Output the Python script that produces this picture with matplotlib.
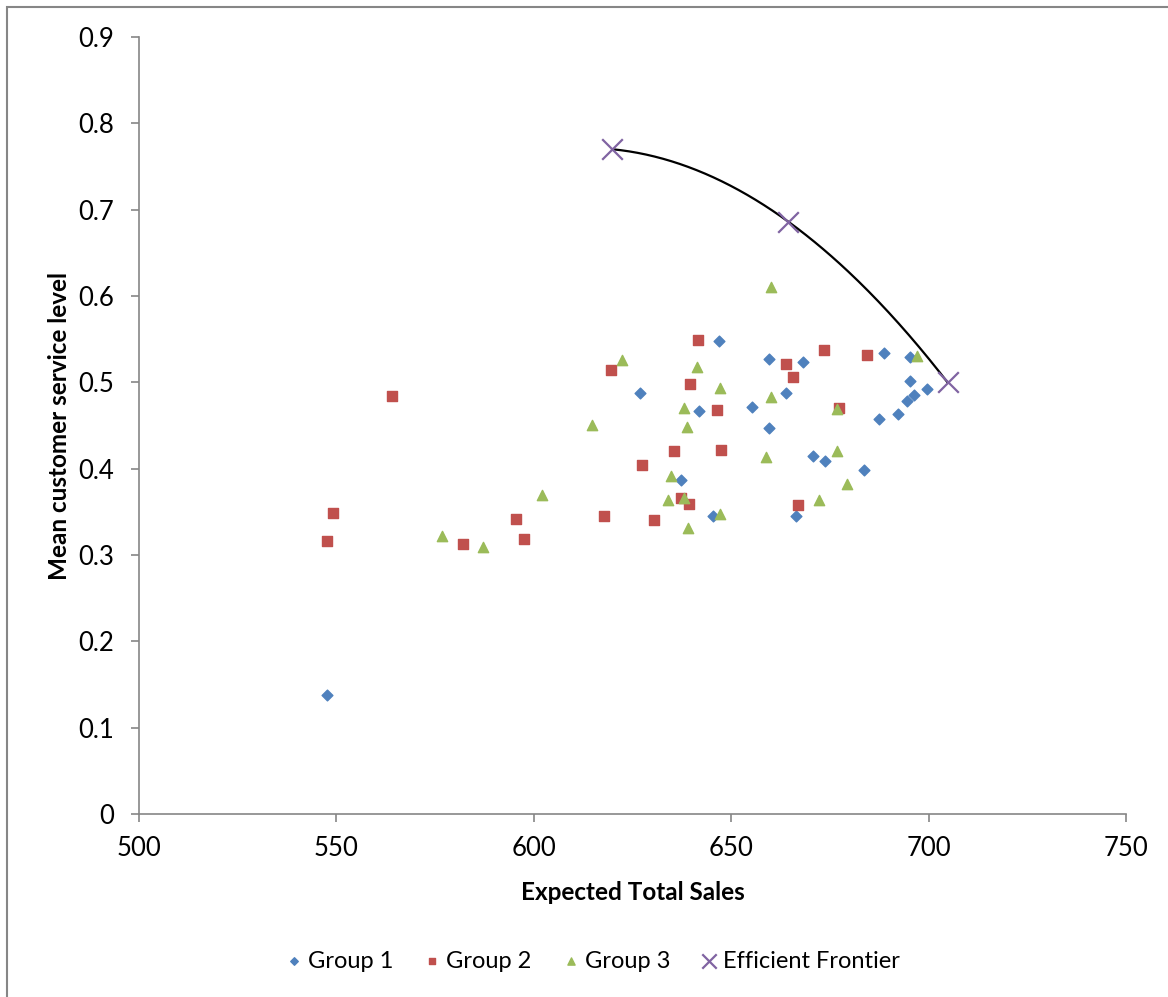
import numpy as np
import matplotlib.pyplot as plt
from matplotlib.patches import Rectangle

# data
g1_x = [647.0, 659.6, 627.0, 641.8, 655.3, 659.7, 637.2, 645.4, 668.3, 688.7, 695.4, 663.9,
        695.4, 699.7, 696.4, 694.6, 692.3, 687.4, 670.8, 673.7, 683.6, 666.5, 547.6]
g1_y = [0.548, 0.527, 0.488, 0.467, 0.471, 0.447, 0.387, 0.345, 0.524, 0.534, 0.529, 0.488,
        0.502, 0.492, 0.485, 0.478, 0.463, 0.458, 0.415, 0.409, 0.398, 0.345, 0.138]

g2_x = [641.7, 619.6, 639.6, 646.3, 635.6, 647.4, 627.5, 637.3, 639.3, 617.7, 630.5, 663.8,
        673.4, 665.7, 684.5, 677.4, 667.0, 564.1, 549.1, 547.7, 582.0, 595.5, 597.4]
g2_y = [0.549, 0.514, 0.498, 0.468, 0.420, 0.422, 0.404, 0.366, 0.359, 0.345, 0.341, 0.521,
        0.537, 0.506, 0.532, 0.470, 0.358, 0.484, 0.349, 0.316, 0.313, 0.342, 0.319]

g3_x = [622.3, 641.4, 647.2, 660.2, 638.0, 638.8, 658.7, 634.8, 634.1, 638.1, 647.2, 639.1,
        660.2, 697.1, 676.7, 676.7, 679.4, 672.2, 614.7, 602.0, 576.8, 587.2]
g3_y = [0.526, 0.518, 0.494, 0.483, 0.470, 0.448, 0.414, 0.391, 0.364, 0.366, 0.348, 0.331,
        0.611, 0.530, 0.469, 0.420, 0.382, 0.364, 0.451, 0.370, 0.322, 0.309]

ef_x = [619.9, 664.5, 704.8]
ef_y = [0.770, 0.686, 0.500]

plt.rcParams['font.family'] = ['Lato', 'DejaVu Sans']

fig = plt.figure(figsize=(11.68, 9.97), dpi=100)
ax = fig.add_axes([0.119, 0.1835, 0.845, 0.7794])

ax.scatter(g1_x, g1_y, marker='D', s=30, color='#4F81BD', label='Group 1', zorder=3)
ax.scatter(g2_x, g2_y, marker='s', s=45, color='#C0504D', label='Group 2', zorder=3)
ax.scatter(g3_x, g3_y, marker='^', s=55, color='#9BBB59', label='Group 3', zorder=3)

# smooth line through the frontier points
coef = np.polyfit(ef_x, ef_y, 2)
xs = np.linspace(ef_x[0], ef_x[-1], 200)
ax.plot(xs, np.polyval(coef, xs), color='black', lw=1.6, zorder=4)
ax.scatter(ef_x, ef_y, marker='x', s=220, color='#8064A2', linewidths=1.6,
           label='Efficient Frontier', zorder=5)

ax.set_xlim(500, 750)
ax.set_ylim(0, 0.9)
ax.set_xticks(np.arange(500, 751, 50))
ax.set_yticks(np.arange(0, 0.91, 0.1))
ax.set_yticklabels(['0'] + ['%.1f' % v for v in np.arange(0.1, 0.91, 0.1)])

for side in ['top', 'right']:
    ax.spines[side].set_visible(False)
for side in ['left', 'bottom']:
    ax.spines[side].set_color('#868686')
    ax.spines[side].set_linewidth(1.2)
ax.tick_params(axis='both', direction='out', length=6, width=1.2, color='#868686',
               labelsize=18.5)
ax.tick_params(axis='y', pad=12)
ax.tick_params(axis='x', pad=10)

ax.set_xlabel('Expected Total Sales', fontsize=17.5, fontweight='bold', labelpad=14)
ax.set_ylabel('Mean customer service level', fontsize=17.5, fontweight='bold', labelpad=5)

fig.legend(loc='center', bbox_to_anchor=(0.505, 0.036), ncol=4, frameon=False, fontsize=17,
           handletextpad=0.0, columnspacing=1.05, markerscale=0.7, handlelength=1.2)

# outer chart border
fig.patches.append(Rectangle((0.006, -0.05), 1.2, 1.043, transform=fig.transFigure,
                             fill=False, edgecolor='#868686', lw=1.5))

fig.savefig('out.png', dpi=100)
